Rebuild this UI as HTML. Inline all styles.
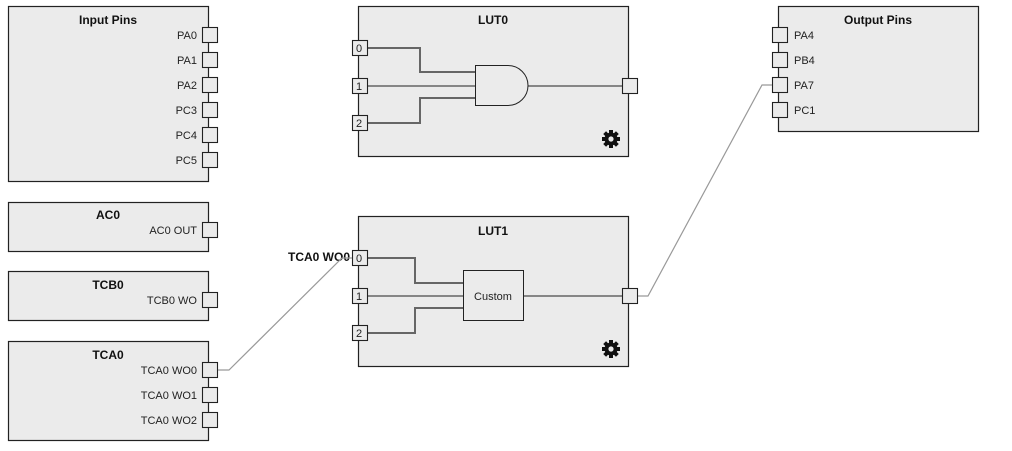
<!DOCTYPE html>
<html><head><meta charset="utf-8"><style>
html,body{margin:0;padding:0;background:#fff;width:1012px;height:451px;overflow:hidden}
svg{display:block}
text{font-family:"Liberation Sans",Arial,sans-serif;font-size:11px;fill:#222}
.t{font-weight:bold;font-size:12px;fill:#111}
.box{fill:#ebebeb;stroke:#222;stroke-width:1.2}
.pin{fill:#ebebeb;stroke:#222;stroke-width:1.1}
</style></head><body>
<svg width="1012" height="451" viewBox="0 0 1012 451">
<!-- Input Pins -->
<rect class="box" x="8.5" y="6.5" width="200" height="175"/>
<text class="t" x="108" y="24" text-anchor="middle">Input Pins</text>
<g text-anchor="end">
<text x="197" y="39">PA0</text><text x="197" y="64">PA1</text><text x="197" y="89">PA2</text>
<text x="197" y="114">PC3</text><text x="197" y="139">PC4</text><text x="197" y="164">PC5</text>
</g>
<rect class="pin" x="202.5" y="27.5" width="15" height="15"/>
<rect class="pin" x="202.5" y="52.5" width="15" height="15"/>
<rect class="pin" x="202.5" y="77.5" width="15" height="15"/>
<rect class="pin" x="202.5" y="102.5" width="15" height="15"/>
<rect class="pin" x="202.5" y="127.5" width="15" height="15"/>
<rect class="pin" x="202.5" y="152.5" width="15" height="15"/>
<!-- AC0 -->
<rect class="box" x="8.5" y="202.5" width="200" height="49"/>
<text class="t" x="108" y="219" text-anchor="middle">AC0</text>
<text x="197" y="234" text-anchor="end">AC0 OUT</text>
<rect class="pin" x="202.5" y="222.5" width="15" height="15"/>
<!-- TCB0 -->
<rect class="box" x="8.5" y="271.5" width="200" height="49"/>
<text class="t" x="108" y="289" text-anchor="middle">TCB0</text>
<text x="197" y="304" text-anchor="end">TCB0 WO</text>
<rect class="pin" x="202.5" y="292.5" width="15" height="15"/>
<!-- TCA0 -->
<rect class="box" x="8.5" y="341.5" width="200" height="99"/>
<text class="t" x="108" y="359" text-anchor="middle">TCA0</text>
<g text-anchor="end">
<text x="197" y="374">TCA0 WO0</text><text x="197" y="399">TCA0 WO1</text><text x="197" y="424">TCA0 WO2</text>
</g>
<rect class="pin" x="202.5" y="362.5" width="15" height="15"/>
<rect class="pin" x="202.5" y="387.5" width="15" height="15"/>
<rect class="pin" x="202.5" y="412.5" width="15" height="15"/>
<!-- LUT0 -->
<rect class="box" x="358.5" y="6.5" width="270" height="150"/>
<text class="t" x="493" y="24" text-anchor="middle">LUT0</text>
<path d="M368 48H420V72H475M368 123H420V98H475" fill="none" stroke="#666" stroke-width="2"/>
<path d="M368 86H475M528 86H622" fill="none" stroke="#222" stroke-width="1"/>
<path d="M475.5 65.5H508A20 20 0 0 1 508 105.5H475.5Z" fill="#ebebeb" stroke="#222" stroke-width="1"/>
<rect class="pin" x="352.5" y="40.5" width="15" height="15"/><text x="356" y="52" font-size="10">0</text>
<rect class="pin" x="352.5" y="78.5" width="15" height="15"/><text x="356" y="90" font-size="10">1</text>
<rect class="pin" x="352.5" y="115.5" width="15" height="15"/><text x="356" y="127" font-size="10">2</text>
<rect class="pin" x="622.5" y="78.5" width="15" height="15"/>
<!-- LUT1 -->
<rect class="box" x="358.5" y="216.5" width="270" height="150"/>
<text class="t" x="493" y="235" text-anchor="middle">LUT1</text>
<path d="M368 258H415V283H463M368 333H415V308H463" fill="none" stroke="#666" stroke-width="2"/>
<path d="M368 296H463M523 296H622" fill="none" stroke="#222" stroke-width="1"/>
<rect x="463.5" y="270.5" width="60" height="50" fill="#ebebeb" stroke="#222"/>
<text x="493" y="300" text-anchor="middle" font-size="12">Custom</text>
<rect class="pin" x="352.5" y="250.5" width="15" height="15"/><text x="356" y="262" font-size="10">0</text>
<rect class="pin" x="352.5" y="288.5" width="15" height="15"/><text x="356" y="300" font-size="10">1</text>
<rect class="pin" x="352.5" y="325.5" width="15" height="15"/><text x="356" y="337" font-size="10">2</text>
<rect class="pin" x="622.5" y="288.5" width="15" height="15"/>
<text class="t" x="350" y="261" text-anchor="end" font-size="11">TCA0 WO0</text>
<!-- gears -->
<g id="gear" transform="translate(611,139)">
<circle r="6.5" fill="#111"/>
<g fill="#111"><rect x="-2" y="-9" width="4" height="18"/><rect x="-9" y="-2" width="18" height="4"/>
<rect x="-2" y="-9" width="4" height="18" transform="rotate(45)"/><rect x="-2" y="-9" width="4" height="18" transform="rotate(-45)"/></g>
<circle r="2.6" fill="#ebebeb"/>
</g>
<use href="#gear" transform="translate(0,210)"/>
<!-- Output Pins -->
<rect class="box" x="778.5" y="6.5" width="200" height="125"/>
<text class="t" x="878" y="24" text-anchor="middle">Output Pins</text>
<rect class="pin" x="772.5" y="27.5" width="15" height="15"/><text x="794" y="39">PA4</text>
<rect class="pin" x="772.5" y="52.5" width="15" height="15"/><text x="794" y="64">PB4</text>
<rect class="pin" x="772.5" y="77.5" width="15" height="15"/><text x="794" y="89">PA7</text>
<rect class="pin" x="772.5" y="102.5" width="15" height="15"/><text x="794" y="114">PC1</text>
<!-- connectors -->
<path d="M218 370H229L342 258H352" fill="none" stroke="#999" stroke-width="1.2"/>
<path d="M638 296H648L762 85H772" fill="none" stroke="#999" stroke-width="1.2"/>
</svg>
</body></html>
